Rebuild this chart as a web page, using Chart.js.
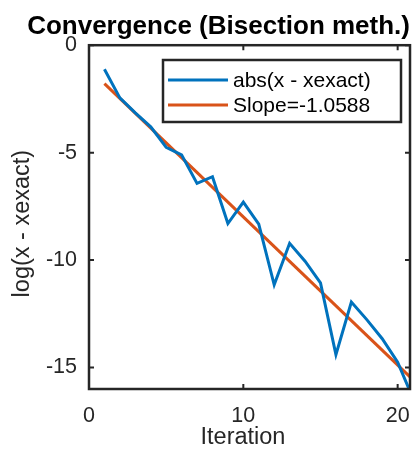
<!DOCTYPE html>
<html>
<head>
<meta charset="utf-8">
<script src="https://cdn.jsdelivr.net/npm/chart.js@4/dist/chart.umd.min.js"></script>
<style>
  html, body { margin: 0; padding: 0; background: #fff; }
  #wrap { width: 412px; height: 452px; }
</style>
</head>
<body>
<div id="wrap"><canvas id="graph" width="412" height="452"></canvas></div>
<script>
// Colours (MATLAB defaults)
var err_color = "#0072BD";
var fit_color = "#D95319";
var axis_color = "#262626";

// Data
var iterations = [1, 2, 3, 4, 5, 6, 7, 8, 9, 10, 11, 12, 13, 14, 15, 16, 17, 18, 19, 20, 21];
var log_error = [-1.12, -2.45, -3.15, -3.8, -4.75, -5.1, -6.43, -6.12, -8.3, -7.3, -8.33, -11.15,
                 -9.22, -10.05, -11.06, -14.4, -11.95, -12.77, -13.66, -14.75, -16.45];
var fit_x = [1, 21];
var fit_y = [-1.79, -15.57];

var x_ticks = [0, 10, 20];
var y_ticks = [-15, -10, -5, 0];

var err_label = "abs(x - xexact)";
var fit_label = "Slope=-1.0588";

var font_family = "'Liberation Sans', Arial, sans-serif";

function points(xs, ys) {
	return xs.map((x, i) => ({ x: x, y: ys[i] }));
}

// Draws the box round the axes, inward ticks on all sides and the boxed legend
var matlabAxes = {
	id: "matlabAxes",
	afterDraw(chart) {
		var ctx = chart.ctx;
		var a = chart.chartArea;
		var xs = chart.scales.x, ys = chart.scales.y;
		var tick = 5;
		ctx.save();
		ctx.strokeStyle = axis_color;
		ctx.lineWidth = 2.5;
		ctx.strokeRect(a.left, a.top, a.right - a.left, a.bottom - a.top);
		ctx.lineWidth = 2;
		ctx.beginPath();
		x_ticks.forEach((v) => {
			var px = xs.getPixelForValue(v);
			ctx.moveTo(px, a.bottom); ctx.lineTo(px, a.bottom - tick);
			ctx.moveTo(px, a.top); ctx.lineTo(px, a.top + tick);
		});
		y_ticks.forEach((v) => {
			var py = ys.getPixelForValue(v);
			ctx.moveTo(a.left, py); ctx.lineTo(a.left + tick, py);
			ctx.moveTo(a.right, py); ctx.lineTo(a.right - tick, py);
		});
		ctx.stroke();

		// legend
		var lx = 163, ly = 60, lw = 238, lh = 62;
		ctx.fillStyle = "#fff";
		ctx.fillRect(lx, ly, lw, lh);
		ctx.lineWidth = 2.5;
		ctx.strokeStyle = axis_color;
		ctx.strokeRect(lx, ly, lw, lh);
		ctx.font = "21px " + font_family;
		ctx.textBaseline = "middle";
		chart.data.datasets.forEach((ds, i) => {
			var y = ly + 20 + i * 25;
			ctx.strokeStyle = ds.borderColor;
			ctx.lineWidth = 3;
			ctx.beginPath();
			ctx.moveTo(lx + 5, y);
			ctx.lineTo(lx + 65, y);
			ctx.stroke();
			ctx.fillStyle = "#000";
			ctx.fillText(ds.label, lx + 70, y + 1);
		});
		ctx.restore();
	}
};

var canvas = document.getElementById("graph").getContext("2d");
var graph = new Chart(canvas, {
	type: "line",
	data: {
		datasets: [
			{
				label: err_label,
				data: points(iterations, log_error),
				borderColor: err_color,
				borderWidth: 3,
				pointRadius: 0,
				tension: 0
			},
			{
				label: fit_label,
				data: points(fit_x, fit_y),
				borderColor: fit_color,
				borderWidth: 3,
				pointRadius: 0,
				tension: 0
			}
		]
	},
	options: {
		responsive: false,
		animation: false,
		layout: { padding: { left: 0, right: 2, top: 0, bottom: 0 } },
		plugins: {
			legend: { display: false },
			tooltip: { enabled: false },
			title: {
				display: true,
				text: "Convergence (Bisection meth.)",
				align: "end",
				color: "#000",
				font: { family: font_family, size: 26, weight: "bold" },
				padding: { top: 11, bottom: 3 }
			}
		},
		scales: {
			x: {
				type: "linear",
				min: 0,
				max: 20.8,
				grid: { display: false, drawTicks: false },
				border: { display: false },
				ticks: {
					stepSize: 10,
					includeBounds: false,
					color: axis_color,
					padding: 14,
					font: { family: font_family, size: 21.5 }
				},
				title: {
					display: true,
					text: "Iteration  ",
					color: axis_color,
					font: { family: font_family, size: 23.5 },
					padding: { top: -3.5, bottom: 0 }
				},
				afterFit(scale) {
					scale.height = 63;
					scale.paddingLeft = 0;
					scale.paddingRight = 0;
				}
			},
			y: {
				type: "linear",
				min: -16,
				max: 0,
				grid: { display: false, drawTicks: false },
				border: { display: false },
				ticks: {
					stepSize: 5,
					includeBounds: false,
					color: axis_color,
					padding: 12,
					font: { family: font_family, size: 21.5 }
				},
				title: {
					display: true,
					text: "log(x - xexact)  ",
					color: axis_color,
					font: { family: font_family, size: 23.5 },
					padding: { top: 8, bottom: 0 }
				},
				afterFit(scale) { scale.width = 89; }
			}
		}
	},
	plugins: [matlabAxes]
});
</script>
</body>
</html>
